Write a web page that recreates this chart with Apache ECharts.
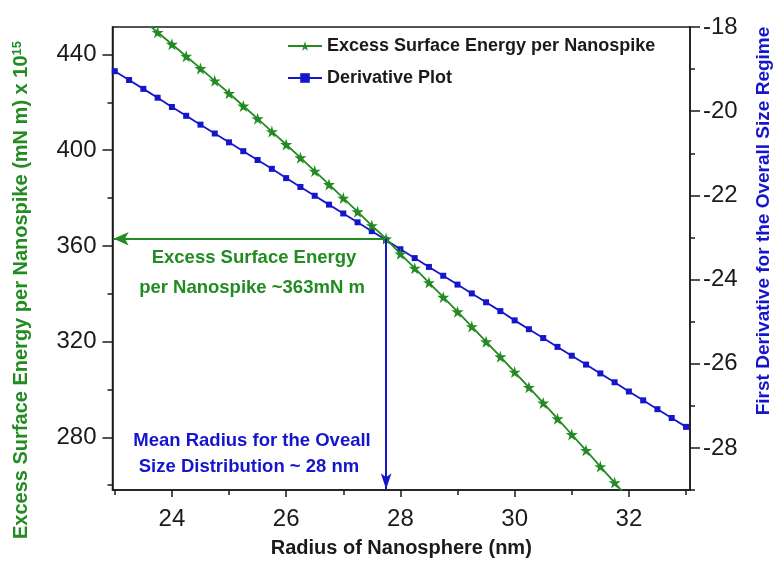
<!DOCTYPE html>
<html>
<head>
<meta charset="utf-8">
<script src="https://cdn.jsdelivr.net/npm/echarts@6/dist/echarts.min.js"></script>
<style>
  html, body { margin: 0; padding: 0; background: #fff; }
  #chart { width: 775px; height: 563px; }
</style>
</head>
<body>
<div id="chart"></div>
<script>
// Radius sampling of the derivative curve (nm)
const radius = [23, 23.25, 23.5, 23.75, 24, 24.25, 24.5, 24.75, 25, 25.25, 25.5, 25.75,
  26, 26.25, 26.5, 26.75, 27, 27.25, 27.5, 27.75, 28, 28.25, 28.5, 28.75, 29, 29.25,
  29.5, 29.75, 30, 30.25, 30.5, 30.75, 31, 31.25, 31.5, 31.75, 32, 32.25, 32.5, 32.75, 33];
// First derivative for the overall size regime
const derivative = [-19.05, -19.26, -19.47, -19.68, -19.90, -20.11, -20.32, -20.53, -20.74,
  -20.95, -21.16, -21.37, -21.59, -21.80, -22.01, -22.22, -22.43, -22.64, -22.85, -23.06,
  -23.28, -23.49, -23.70, -23.91, -24.12, -24.33, -24.54, -24.75, -24.97, -25.18, -25.39,
  -25.60, -25.81, -26.02, -26.23, -26.44, -26.66, -26.87, -27.08, -27.29, -27.50];

// Radius sampling of the excess surface energy curve (nm)
const energyRadius = [23.5, 23.75, 24, 24.25, 24.5, 24.75, 25, 25.25, 25.5, 25.75, 26, 26.25,
  26.5, 26.75, 27, 27.25, 27.5, 27.75, 28, 28.25, 28.5, 28.75, 29, 29.25, 29.5, 29.75, 30,
  30.25, 30.5, 30.75, 31, 31.25, 31.5, 31.75, 32];
// Excess surface energy per nanospike (mN m) x 10^15
const energy = [454.2, 449.3, 444.3, 439.3, 434.2, 429.0, 423.8, 418.5, 413.2, 407.8, 402.4,
  396.9, 391.3, 385.7, 380.0, 374.3, 368.5, 363.0, 356.7, 350.7, 344.7, 338.6, 332.5, 326.3,
  320.0, 313.7, 307.3, 300.9, 294.4, 287.8, 281.2, 274.6, 267.8, 261.1, 254.2];

// Tick values
const xMajorTicks = [24, 26, 28, 30, 32];
const xMinorTicks = [23, 25, 27, 29, 31, 33];
const leftMajorTicks = [280, 320, 360, 400, 440];
const leftMinorTicks = [260, 300, 340, 380, 420];
const rightMajorTicks = [-28, -26, -24, -22, -20, -18];
const rightMinorTicks = [-29, -27, -25, -23, -21, -19];

// Annotated crossing point
const meanRadius = 27.75;
const energyAtMean = 363;

const GREEN = '#228b22';
const BLUE = '#1515cc';
const INK = '#1a1a1a';
const FONT = '"Liberation Sans", Arial, Helvetica, sans-serif';

const X_MIN = 22.96, X_MAX = 33.07;
const L_MIN = 258, L_MAX = 451.5;
const R_MIN = -29, R_MAX = -18;

const STAR = 'path://M50,0 L61,35 L98,35 L68,57 L79,91 L50,70 L21,91 L32,57 L2,35 L39,35 Z';

function minorAxis(base, ticks, len) {
  return Object.assign({}, base, {
    axisLine: { show: false },
    axisLabel: { show: false },
    splitLine: { show: false },
    axisTick: { show: true, length: len, customValues: ticks, lineStyle: { color: INK, width: 1.5 } }
  });
}

const chart = echarts.init(document.getElementById('chart'), null, { renderer: 'canvas' });

const xBase = { type: 'value', min: X_MIN, max: X_MAX, position: 'bottom' };
const leftBase = { type: 'value', min: L_MIN, max: L_MAX, position: 'left' };
const rightBase = { type: 'value', min: R_MIN, max: R_MAX, position: 'right' };

chart.setOption({
  animation: false,
  backgroundColor: '#fff',
  textStyle: { fontFamily: FONT },
  grid: {
    left: 112.5, right: 85, top: 27, bottom: 70,
    show: true, borderColor: INK, borderWidth: 1.5, containLabel: false
  },
  legend: {
    orient: 'vertical', left: 287, top: 36, padding: 0,
    itemWidth: 34, itemHeight: 12, itemGap: 12,
    textStyle: { fontSize: 18, fontWeight: 'bold', color: INK, fontFamily: FONT, lineHeight: 20 },
    data: ['Excess Surface Energy per Nanospike', 'Derivative Plot']
  },
  xAxis: [
    Object.assign({}, xBase, {
      axisLine: { show: true, lineStyle: { color: INK, width: 1.5 } },
      axisTick: { show: true, length: 7, customValues: xMajorTicks, lineStyle: { color: INK, width: 1.5 } },
      axisLabel: { customValues: xMajorTicks, fontSize: 24, margin: 17, color: INK },
      splitLine: { show: false },
      name: 'Radius of Nanosphere (nm)', nameLocation: 'middle', nameGap: 48,
      nameTextStyle: { fontSize: 20, fontWeight: 'bold', color: INK }
    }),
    minorAxis(xBase, xMinorTicks, 5)
  ],
  yAxis: [
    Object.assign({}, leftBase, {
      axisLine: { show: true, lineStyle: { color: INK, width: 1.5 } },
      axisTick: { show: true, length: 10, customValues: leftMajorTicks, lineStyle: { color: INK, width: 1.5 } },
      axisLabel: { customValues: leftMajorTicks, fontSize: 24, margin: 16, color: INK },
      splitLine: { show: false }
    }),
    minorAxis(leftBase, leftMinorTicks, 5),
    Object.assign({}, rightBase, {
      axisLine: { show: true, lineStyle: { color: INK, width: 1.5 } },
      axisTick: { show: true, length: 10, customValues: rightMajorTicks, lineStyle: { color: INK, width: 1.5 } },
      axisLabel: { customValues: rightMajorTicks, fontSize: 24, margin: 13, color: INK },
      splitLine: { show: false }
    }),
    minorAxis(rightBase, rightMinorTicks, 5)
  ],
  series: [
    {
      name: 'Excess Surface Energy per Nanospike',
      type: 'line', xAxisIndex: 0, yAxisIndex: 0, z: 3,
      data: energyRadius.map((r, i) => [r, energy[i]]),
      symbol: STAR, symbolSize: 12,
      lineStyle: { color: GREEN, width: 1.8 },
      itemStyle: { color: GREEN },
      clip: true,
      markLine: {
        silent: true, animation: false,
        symbol: ['none', 'arrow'],
        label: { show: false },
        data: [
          [
            { coord: [meanRadius, energyAtMean], lineStyle: { color: GREEN, width: 2, type: 'solid' }, itemStyle: { color: GREEN } },
            { coord: [X_MIN + 0.02, energyAtMean], symbolSize: [10, 15] }
          ],
          [
            { coord: [meanRadius, energyAtMean], lineStyle: { color: BLUE, width: 2, type: 'solid' }, itemStyle: { color: BLUE } },
            { coord: [meanRadius, L_MIN + 0.3], symbolSize: [8, 16] }
          ]
        ]
      }
    },
    {
      name: 'Derivative Plot',
      type: 'line', xAxisIndex: 0, yAxisIndex: 2, z: 2,
      data: radius.map((r, i) => [r, derivative[i]]),
      symbol: 'rect', symbolSize: 6,
      lineStyle: { color: BLUE, width: 1.8 },
      itemStyle: { color: BLUE },
      clip: true
    }
  ],
  graphic: [
    {
      type: 'text', x: 21, y: 290, rotation: Math.PI / 2,
      style: {
        text: 'Excess Surface Energy per Nanospike (mN m) x 10{sup|15}',
        fill: GREEN, font: 'bold 20px ' + FONT,
        align: 'center', verticalAlign: 'middle',
        rich: { sup: { fontSize: 13, fontWeight: 'bold', fill: GREEN, verticalAlign: 'top', fontFamily: FONT } }
      }
    },
    {
      type: 'text', x: 764, y: 221, rotation: Math.PI / 2,
      style: {
        text: 'First Derivative for the Overall Size Regime',
        fill: BLUE, font: 'bold 19px ' + FONT,
        align: 'center', verticalAlign: 'middle'
      }
    },
    {
      type: 'text', x: 254, y: 258,
      style: { text: 'Excess Surface Energy', fill: GREEN, font: 'bold 18.5px ' + FONT, align: 'center', verticalAlign: 'middle' }
    },
    {
      type: 'text', x: 252, y: 288,
      style: { text: 'per Nanospike ~363mN m', fill: GREEN, font: 'bold 18.5px ' + FONT, align: 'center', verticalAlign: 'middle' }
    },
    {
      type: 'text', x: 252, y: 441,
      style: { text: 'Mean Radius for the Oveall', fill: BLUE, font: 'bold 18.5px ' + FONT, align: 'center', verticalAlign: 'middle' }
    },
    {
      type: 'text', x: 249, y: 467,
      style: { text: 'Size Distribution ~ 28 nm', fill: BLUE, font: 'bold 18.5px ' + FONT, align: 'center', verticalAlign: 'middle' }
    }
  ]
});
</script>
</body>
</html>
